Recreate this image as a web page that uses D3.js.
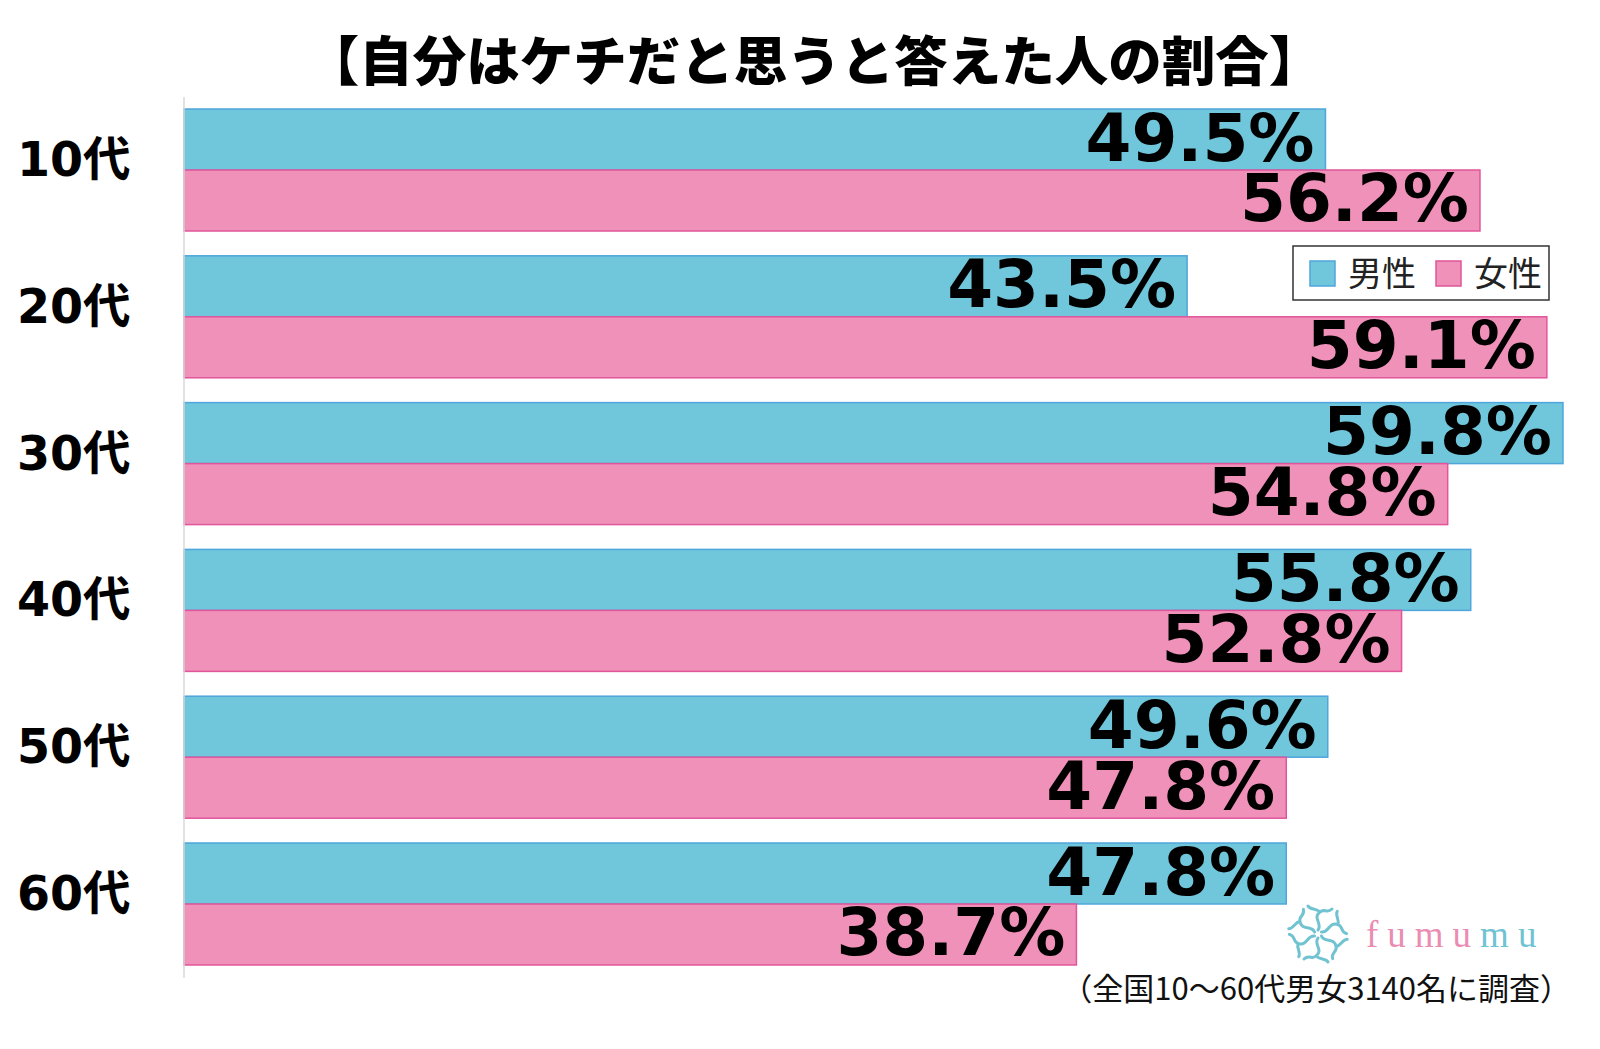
<!DOCTYPE html>
<html>
<head>
<meta charset="utf-8">
<script src="https://cdn.jsdelivr.net/npm/d3@7"></script>
<style>
  html, body { margin: 0; padding: 0; background: #fff; }
  svg { display: block; }
</style>
</head>
<body>
<svg id="chart" width="1600" height="1049"></svg>
<script>
// ---- data ----
const categories = ["10代", "20代", "30代", "40代", "50代", "60代"];
const seriesNames = ["男性", "女性"];
const maleValues = [49.5, 43.5, 59.8, 55.8, 49.6, 47.8];
const femaleValues = [56.2, 59.1, 54.8, 52.8, 47.8, 38.7];
const titleText = "【自分はケチだと思うと答えた人の割合】";
const noteText = "（全国10～60代男女3140名に調査）";
const logoLetters = ["f", "u", "m", "u", "m", "u"];

const colors = { "男性": "#70c6da", "女性": "#ef91b9" };
const strokes = { "男性": "#4fa6dc", "女性": "#e1559a" };

const rows = categories.map((c, i) => ({
  cat: c,
  vals: [
    { s: "男性", v: maleValues[i] },
    { s: "女性", v: femaleValues[i] }
  ]
}));

const svg = d3.select("#chart");
const x0 = 184;

const x = d3.scaleLinear().domain([0, 60]).range([x0, x0 + 60 * 23.06]);
const y = d3.scaleBand().domain(categories).range([96.6, 977.4])
  .paddingInner(0.169).paddingOuter(0.0845);
const ys = d3.scaleBand().domain(seriesNames).range([0, y.bandwidth()]);

// title
svg.append("text")
  .attr("x", 814).attr("y", 81)
  .attr("text-anchor", "middle")
  .style("font-family", "'Noto Sans CJK JP', sans-serif")
  .style("font-weight", 900)
  .style("font-size", "53.5px")
  .attr("fill", "#000")
  .text(titleText);

// bars
const g = svg.append("g");
const groups = g.selectAll("g.grp").data(rows).join("g")
  .attr("class", "grp")
  .attr("transform", d => `translate(0,${y(d.cat)})`);

groups.selectAll("rect").data(d => d.vals).join("rect")
  .attr("x", x(0))
  .attr("y", d => ys(d.s))
  .attr("width", d => x(d.v) - x(0))
  .attr("height", ys.bandwidth())
  .attr("fill", d => colors[d.s])
  .attr("stroke", d => strokes[d.s])
  .attr("stroke-width", 1.5);

groups.selectAll("text.val").data(d => d.vals).join("text")
  .attr("class", "val")
  .attr("x", d => x(d.v) - 11)
  .attr("y", d => ys(d.s) + ys.bandwidth() / 2 + 21)
  .attr("text-anchor", "end")
  .style("font-family", "'DejaVu Sans', sans-serif")
  .style("font-weight", "bold")
  .style("font-size", "66px")
  .attr("fill", "#000")
  .text(d => d.v.toFixed(1) + "%");

// axis
const axis = svg.append("g")
  .attr("transform", `translate(${x0 - 0.5},0)`)
  .call(d3.axisLeft(y).tickSize(0).tickSizeOuter(0).tickPadding(53));
axis.select(".domain").attr("stroke", "#d9d9d9").attr("stroke-width", 1.5);
axis.selectAll(".tick text")
  .attr("dy", 6)
  .style("font-family", "'DejaVu Sans', 'Noto Sans CJK JP', sans-serif")
  .style("font-weight", "bold")
  .style("font-size", "47.5px")
  .attr("fill", "#000");

// legend
const lg = svg.append("g");
lg.append("rect")
  .attr("x", 1293).attr("y", 246).attr("width", 256).attr("height", 54)
  .attr("fill", "#fff").attr("stroke", "#333").attr("stroke-width", 1.5);
const legX = { "男性": 1310, "女性": 1436 };
seriesNames.forEach(s => {
  lg.append("rect")
    .attr("x", legX[s]).attr("y", 261).attr("width", 25).attr("height", 25)
    .attr("fill", colors[s]).attr("stroke", strokes[s]).attr("stroke-width", 1.5);
  lg.append("text")
    .attr("x", legX[s] + 38).attr("y", 286)
    .style("font-family", "'Noto Sans CJK JP', sans-serif")
    .style("font-size", "34px")
    .attr("fill", "#222")
    .text(s);
});

// logo
const logo = svg.append("g").attr("transform", "translate(1318,934)");
const petal = "M0,-4 C5,-10 -6,-16 2,-22 C6,-26 9,-20 14,-25 M2,-22 C-2,-26 -8,-24 -10,-28";
d3.range(6).forEach(i => {
  logo.append("path")
    .attr("d", petal)
    .attr("transform", `rotate(${i * 60})`)
    .attr("fill", "none")
    .attr("stroke", "#72c3d2")
    .attr("stroke-width", 3)
    .attr("stroke-linecap", "round");
});
const logoText = svg.append("text")
  .attr("x", 1366).attr("y", 947)
  .style("font-family", "'Liberation Serif', serif")
  .style("font-size", "37px")
  .style("letter-spacing", "9px");
logoLetters.forEach((ch, i) => {
  logoText.append("tspan")
    .attr("fill", i < 4 ? "#e98db2" : "#6fc3d2")
    .text(ch);
});

// footnote
svg.append("text")
  .attr("x", 1571).attr("y", 1000)
  .attr("text-anchor", "end")
  .style("font-family", "'Noto Sans CJK JP', sans-serif")
  .style("font-size", "31px")
  .attr("fill", "#111")
  .text(noteText);
</script>
</body>
</html>
